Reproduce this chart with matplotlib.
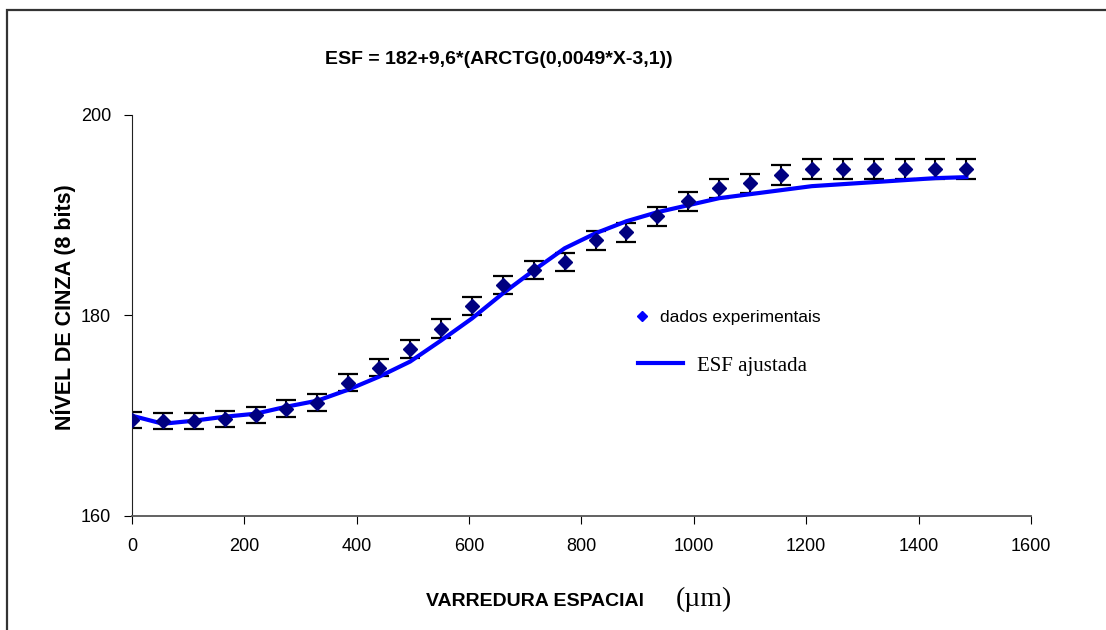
import matplotlib.pyplot as plt
from matplotlib.lines import Line2D
from matplotlib.patches import Rectangle

# dados -----------------------------------
x = [0, 55, 110, 165, 220, 275, 330, 385, 440, 495, 550, 605, 660, 715,
     770, 825, 880, 935, 990, 1045, 1100, 1155, 1210, 1265, 1320, 1375, 1430, 1485]
y_exp = [169.6, 169.5, 169.5, 169.7, 170.1, 170.7, 171.3, 173.3, 174.8, 176.7,
         178.7, 180.9, 183.0, 184.5, 185.3, 187.5, 188.3, 189.9, 191.4, 192.7,
         193.2, 194.0, 194.6, 194.6, 194.6, 194.6, 194.6, 194.6]
y_err = [0.8, 0.8, 0.8, 0.8, 0.8, 0.85, 0.85, 0.85, 0.85, 0.9,
         0.9, 0.9, 0.9, 0.9, 0.9, 0.95, 0.95, 0.95, 0.95, 0.95,
         0.95, 1.0, 1.0, 1.0, 1.0, 1.0, 1.0, 1.0]
y_fit = [170.0, 169.2, 169.5, 169.9, 170.2, 170.9, 171.5, 172.6, 173.9, 175.4,
         177.5, 179.7, 182.2, 184.5, 186.7, 188.2, 189.4, 190.3, 191.0, 191.7,
         192.1, 192.5, 192.9, 193.1, 193.3, 193.5, 193.7, 193.8]

sans = 'Liberation Sans'
serif = 'Liberation Serif'

fig = plt.figure(figsize=(11.06, 6.30), dpi=100)
ax = fig.add_axes([0.1193, 0.181, 0.8129, 0.6365])

# moldura externa
fig.patches.append(Rectangle((7 / 1106, -0.1), 1.2, 1 - 10 / 630 + 0.1,
                             transform=fig.transFigure, fill=False,
                             edgecolor='#333333', linewidth=1.6))

ax.errorbar(x, y_exp, yerr=y_err, fmt='none', ecolor='black',
            elinewidth=1.5, capsize=7, capthick=1.6, zorder=2)
ax.plot(x, y_fit, color='#0000FF', linewidth=3, zorder=3)
ax.plot(x, y_exp, linestyle='none', marker='D', markersize=7,
        color='#000080', zorder=4)

ax.set_xlim(0, 1600)
ax.set_ylim(160, 200)
ax.set_xticks(range(0, 1601, 200))
ax.set_yticks([160, 180, 200])
for s in ['top', 'right']:
    ax.spines[s].set_visible(False)
ax.spines['left'].set_color('#222222')
ax.spines['bottom'].set_color('#555555')
ax.spines['bottom'].set_linewidth(1.3)
ax.tick_params(direction='out', length=6, width=0.8, labelsize=13)
ax.tick_params(axis='x', pad=10)
ax.tick_params(axis='y', pad=9)
for lab in ax.get_xticklabels() + ax.get_yticklabels():
    lab.set_fontfamily(sans)

# titulo e eixos
fig.text(0.451, 0.906, 'ESF = 182+9,6*(ARCTG(0,0049*X-3,1))', fontfamily=sans,
         fontweight='bold', fontsize=14, ha='center', va='center')
fig.text(0.057, 0.513, 'NÍVEL DE CINZA (8 bits)', fontfamily=sans,
         fontweight='bold', fontsize=15.5, rotation=90, ha='center', va='center')
fig.text(0.484, 0.046, 'VARREDURA ESPACIAl', fontfamily=sans,
         fontweight='bold', fontsize=14, ha='center', va='center')
fig.text(0.636, 0.048, '(µm)', fontfamily=serif, fontsize=20,
         ha='center', va='center')

# legenda (duas entradas com fontes diferentes)
leg1 = ax.legend([Line2D([], [], linestyle='none', marker='D', markersize=5.5,
                         color='#0000FF')], ['dados experimentais'],
                 frameon=False, loc='center left', bbox_to_anchor=(0.5595, 0.494),
                 handlelength=0.8, handletextpad=0.65, borderpad=0, borderaxespad=0,
                 prop={'family': sans, 'size': 12.5})
ax.add_artist(leg1)
ax.legend([Line2D([], [], color='#0000FF', linewidth=3)], ['ESF ajustada'],
          frameon=False, loc='center left', bbox_to_anchor=(0.5628, 0.374),
          handlelength=2.16, handletextpad=0.67, borderpad=0, borderaxespad=0,
          prop={'family': serif, 'size': 15})

fig.savefig('out.png', dpi=100)
